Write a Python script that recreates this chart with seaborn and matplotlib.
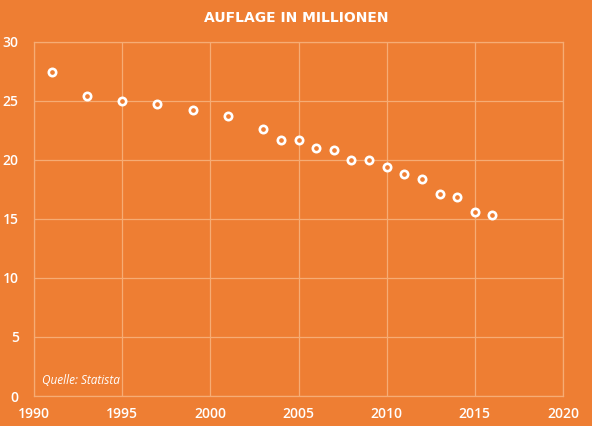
import matplotlib
matplotlib.use("Agg")
import matplotlib.pyplot as plt
import seaborn as sns
import pandas as pd

years = [1991, 1993, 1995, 1997, 1999, 2001, 2003, 2004, 2005, 2006,
         2007, 2008, 2009, 2010, 2011, 2012, 2013, 2014, 2015, 2016]
auflage = [27.4, 25.4, 25.0, 24.7, 24.2, 23.7, 22.6, 21.7, 21.7, 21.0,
           20.85, 20.0, 20.0, 19.4, 18.8, 18.4, 17.1, 16.8, 15.6, 15.3]
x_ticks = [1990, 1995, 2000, 2005, 2010, 2015, 2020]
y_ticks = [0, 5, 10, 15, 20, 25, 30]

df = pd.DataFrame({"Jahr": years, "Auflage": auflage})

BG = "#EE7E33"
GRID = "#F6AC74"

sns.set_theme(style="white")
plt.rcParams['font.family'] = ['Open Sans', 'DejaVu Sans']

fig = plt.figure(figsize=(5.92, 4.26), dpi=100, facecolor=BG)
ax = fig.add_axes([34/592, 1-396/426, (563-34)/592, (396-41.5)/426])
ax.set_facecolor(BG)

sns.scatterplot(data=df, x="Jahr", y="Auflage", ax=ax, s=28,
                facecolor=BG, edgecolor="white", linewidth=1.9, zorder=3)

ax.set_xlim(1990, 2020)
ax.set_ylim(0, 30)
ax.set_xticks(x_ticks)
ax.set_yticks(y_ticks)
ax.grid(True, color=GRID, linewidth=0.9)
for s in ax.spines.values():
    s.set_visible(True)
    s.set_color(GRID)
    s.set_linewidth(0.9)
ax.tick_params(axis="both", length=0, colors="white", labelsize=10)
ax.tick_params(axis="y", pad=11)
ax.tick_params(axis="x", pad=8)
for lab in ax.get_xticklabels() + ax.get_yticklabels():
    lab.set_fontweight("semibold")
ax.set_xlabel("")
ax.set_ylabel("")

fig.text(0.5, 1-18/426, "AUFLAGE IN MILLIONEN", ha="center", va="center",
         color="white", fontsize=10, fontweight="bold",
         family=["DejaVu Sans"])
ax.text(0.015, 0.045, "Quelle: Statista", transform=ax.transAxes,
        color="white", fontsize=8.5, style="italic", ha="left", va="center")

fig.savefig("out.png", dpi=100, facecolor=BG)
